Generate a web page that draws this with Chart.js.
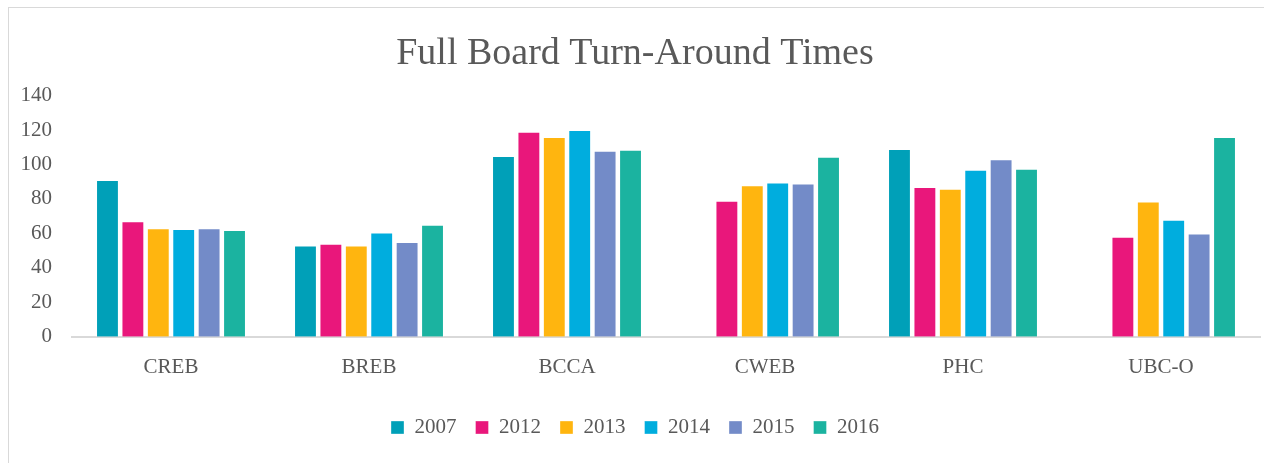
<!DOCTYPE html>
<html>
<head>
<meta charset="utf-8">
<script src="https://cdn.jsdelivr.net/npm/chart.js@4.4.0/dist/chart.umd.min.js"></script>
<style>
  html, body { margin: 0; padding: 0; background: #fff; }
  #wrap { position: relative; width: 1264px; height: 463px; }
  #frame { position: absolute; left: 8px; top: 7px; width: 1270px; height: 470px; border: 1px solid #d9d9d9; box-sizing: border-box; }
  canvas { position: absolute; left: 0; top: 0; }
</style>
</head>
<body>
<div id="wrap">
  <div id="frame"></div>
  <canvas id="myChart" width="1264" height="463"></canvas>
</div>
<script>
/* chart data */
var categories = ["CREB", "BREB", "BCCA", "CWEB", "PHC", "UBC-O"];
var years = ["2007", "2012", "2013", "2014", "2015", "2016"];
var v2007 = [91, 53, 105, null, 109, null];
var v2012 = [67, 54, 119, 79, 87, 58];
var v2013 = [63, 53, 116, 88, 86, 78.5];
var v2014 = [62.5, 60.5, 120, 89.5, 97, 68];
var v2015 = [63, 55, 108, 89, 103, 60];
var v2016 = [62, 65, 108.5, 104.5, 97.5, 116];
var yTicks = [0, 20, 40, 60, 80, 100, 120, 140];

var colors = ["#00A0B8", "#E9177B", "#FFB50F", "#00ADDE", "#738BC8", "#1BB3A0"];
var series = [v2007, v2012, v2013, v2014, v2015, v2016];

var datasets = [];
for (var i = 0; i < years.length; i++) {
  datasets.push({
    label: years[i],
    data: series[i],
    backgroundColor: colors[i],
    borderColor: "rgba(255,255,255,0.35)",
    borderWidth: 1,
    barPercentage: 0.9,
    categoryPercentage: 0.77
  });
}

var font = "'Liberation Serif', 'DejaVu Serif', serif";
var ctx = document.getElementById('myChart').getContext('2d');
var chart = new Chart(ctx, {
  type: 'bar',
  data: { labels: categories, datasets: datasets },
  options: {
    responsive: false,
    animation: false,
    layout: { padding: { left: 10, right: 4, top: 0, bottom: 15 } },
    plugins: {
      title: {
        display: true,
        text: "Full Board Turn-Around Times",
        color: "#595959",
        font: { family: font, size: 38, weight: 'normal' },
        padding: { top: 31, bottom: 19 }
      },
      legend: {
        position: 'bottom',
        labels: {
          color: "#595959",
          font: { family: font, size: 21 },
          boxWidth: 13,
          boxHeight: 13,
          padding: 19
        }
      },
      tooltip: { enabled: false }
    },
    scales: {
      x: {
        grid: { display: false, drawTicks: false },
        border: { color: "#d9d9d9", width: 2 },
        ticks: { color: "#595959", font: { family: font, size: 21 }, padding: 18 }
      },
      y: {
        min: 0,
        max: 140,
        afterFit: function(s) { s.width = 62; },
        afterBuildTicks: function(s) { s.ticks = yTicks.map(function(v) { return { value: v }; }); },
        grid: { display: false, drawTicks: false },
        border: { display: false },
        ticks: { color: "#595959", font: { family: font, size: 21 }, padding: 20 }
      }
    }
  }
});
</script>
</body>
</html>
